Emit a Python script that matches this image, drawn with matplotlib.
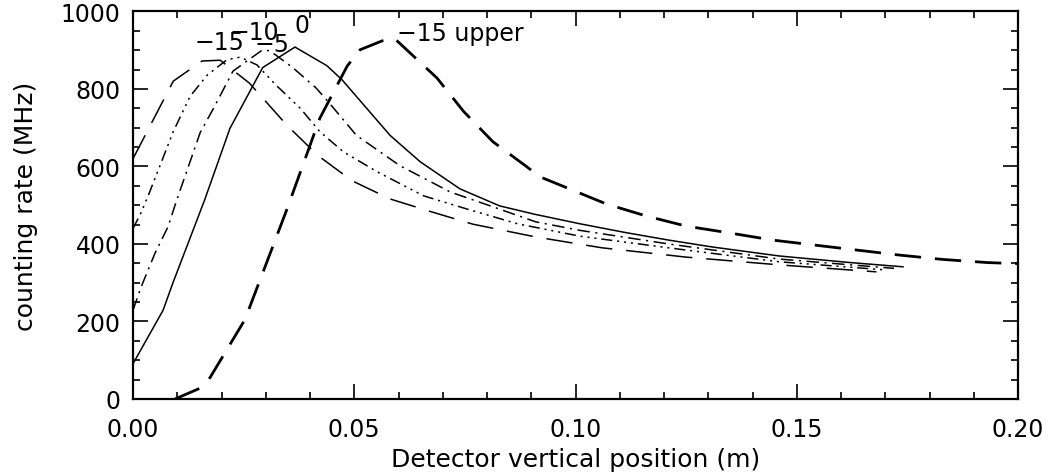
import numpy as np
import matplotlib
matplotlib.use('Agg')
import matplotlib.pyplot as plt
from matplotlib.ticker import MultipleLocator

plt.rcParams['font.family'] = ['DejaVu Sans']
plt.rcParams['lines.scale_dashes'] = False

# curve "0" (solid)
x0 = [0.0, 0.0068, 0.009, 0.0162, 0.0219, 0.0293, 0.0366, 0.0438, 0.0472, 0.0581, 0.0649, 0.0739,
      0.0829, 0.091, 0.101, 0.111, 0.121, 0.131, 0.146, 0.162, 0.174]
y0 = [91, 229, 299, 514, 698, 855, 908, 860, 824, 680, 612, 542, 498, 476, 452, 430, 410, 392, 369, 352, 341]

# curve "-5" (dash-dot)
x5 = [0.0, 0.0018, 0.005, 0.0079, 0.0099, 0.0152, 0.0182, 0.0226, 0.0293, 0.031, 0.0362, 0.0414, 0.0444,
      0.0505, 0.0603, 0.0717, 0.0828, 0.091, 0.101, 0.121, 0.146, 0.172]
y5 = [229, 288, 377, 444, 514, 688, 750, 846, 901, 898, 854, 802, 763, 680, 602, 534, 490, 457, 435, 400, 361, 337]

# curve "-10" (dash-dot-dot-dot)
x10 = [0.0, 0.0018, 0.0038, 0.0091, 0.0129, 0.0168, 0.0212, 0.0242, 0.028, 0.0323, 0.0378, 0.0422, 0.0475,
       0.0552, 0.0657, 0.0755, 0.0869, 0.101, 0.121, 0.146, 0.170]
y10 = [440, 480, 535, 690, 781, 836, 875, 882, 862, 810, 750, 690, 638, 586, 524, 490, 452, 420, 390, 354, 333]

# curve "-15" (long dash)
x15 = [0.0, 0.0091, 0.0156, 0.0197, 0.0263, 0.0348, 0.0418, 0.0495, 0.0581, 0.0677, 0.0768, 0.091, 0.106,
       0.125, 0.146, 0.168]
y15 = [620, 820, 872, 874, 815, 706, 628, 563, 516, 482, 451, 418, 390, 366, 346, 328]

# curve "-15 upper" (long dash, thick)
xu = [0.0095, 0.0152, 0.0174, 0.0253, 0.0348, 0.0422, 0.0484, 0.0513, 0.0563, 0.0592, 0.0687, 0.0747,
      0.0813, 0.089, 0.092, 0.107, 0.116, 0.125, 0.135, 0.1445, 0.1637, 0.1734, 0.183, 0.193, 0.2]
yu = [0, 28, 55, 205, 490, 724, 859, 901, 924, 929, 828, 742, 664, 599, 573, 503, 472, 446, 428, 410,
      384, 371, 360, 352, 349]

fig = plt.figure(figsize=(10.49, 4.77), dpi=100)
ax = fig.add_axes([0.1268, 0.1615, 0.8437, 0.8125])

ax.plot(x0, y0, color='black', lw=1.1, solid_joinstyle='miter')
l5, = ax.plot(x5, y5, color='black', lw=1.1)
l5.set_dashes([9, 4, 1.5, 4])
l10, = ax.plot(x10, y10, color='black', lw=1.1)
l10.set_dashes([8, 3.5, 1.5, 3.5, 1.5, 3.5, 1.5, 3.5])
l15, = ax.plot(x15, y15, color='black', lw=1.1)
l15.set_dashes([19, 10])
lu, = ax.plot(xu, yu, color='black', lw=2.0)
lu.set_dashes([19, 10])

# curve labels
ax.text(0.0140, 904, '\u221215', fontsize=17, ha='left', va='baseline')
ax.text(0.0219, 930, '\u221210', fontsize=17, ha='left', va='baseline')
ax.text(0.0275, 899, '\u22125', fontsize=17, ha='left', va='baseline')
ax.text(0.0366, 948, '0', fontsize=17, ha='left', va='baseline')
ax.text(0.0596, 926, '\u221215 upper', fontsize=17, ha='left', va='baseline')

ax.set_xlim(0, 0.2)
ax.set_ylim(0, 1000)
ax.xaxis.set_major_locator(MultipleLocator(0.05))
ax.xaxis.set_minor_locator(MultipleLocator(0.01))
ax.yaxis.set_major_locator(MultipleLocator(200))
ax.yaxis.set_minor_locator(MultipleLocator(50))
ax.set_xticklabels(['%.2f' % v for v in ax.get_xticks()])
ax.tick_params(which='both', direction='in', top=True, right=True, labelsize=17, width=1.2)
ax.tick_params(which='major', length=11)
ax.tick_params(axis='x', which='major', pad=13)
ax.tick_params(axis='y', which='major', pad=9)
ax.tick_params(which='minor', length=5)
for s in ax.spines.values():
    s.set_linewidth(1.6)

ax.set_xlabel('Detector vertical position (m)', fontsize=18, labelpad=4)
ax.set_ylabel('counting rate (MHz)', fontsize=18, labelpad=16)

fig.savefig('out.png', dpi=100)
